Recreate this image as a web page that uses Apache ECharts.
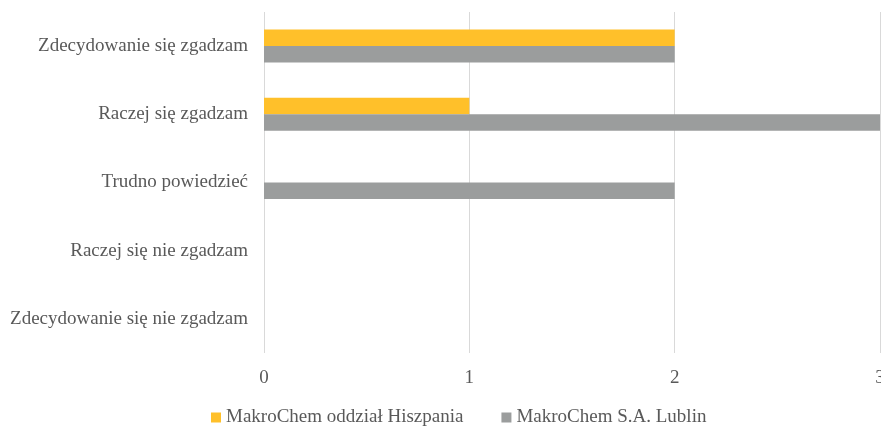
<!DOCTYPE html>
<html>
<head>
<meta charset="utf-8">
<script src="https://cdn.jsdelivr.net/npm/echarts@6/dist/echarts.min.js"></script>
<style>
  html, body { margin: 0; padding: 0; background: #fff; }
  #chart { width: 881px; height: 426px; }
</style>
</head>
<body>
<div id="chart"></div>
<script>
// Answer categories, listed top to bottom
const categories = [
  'Zdecydowanie się zgadzam',
  'Raczej się zgadzam',
  'Trudno powiedzieć',
  'Raczej się nie zgadzam',
  'Zdecydowanie się nie zgadzam'
];
const seriesNames = ['MakroChem oddział Hiszpania', 'MakroChem S.A. Lublin'];
const hiszpaniaValues = [2, 1, 0, 0, 0];
const lublinValues = [2, 3, 2, 0, 0];
const xTicks = [0, 1, 2, 3];

const font = '"Liberation Serif", "Times New Roman", serif';
const textColor = '#595959';
const fontSize = 19;

const chart = echarts.init(document.getElementById('chart'));
chart.setOption({
  animation: false,
  textStyle: { fontFamily: font },
  grid: { left: 264, right: 1, top: 12, bottom: 73, containLabel: false, outerBoundsMode: 'none' },
  legend: {
    top: 408,
    left: 211,
    itemWidth: 10,
    itemHeight: 10,
    itemGap: 38,
    icon: 'rect',
    padding: 0,
    textStyle: { fontFamily: font, fontSize: fontSize, color: textColor },
    data: seriesNames
  },
  xAxis: {
    type: 'value',
    min: xTicks[0],
    max: xTicks[xTicks.length - 1],
    interval: 1,
    axisLine: { show: false },
    axisTick: { show: false },
    axisLabel: { fontFamily: font, fontSize: fontSize, color: textColor, margin: 16 },
    splitLine: { show: true, lineStyle: { color: '#d9d9d9', width: 1 } }
  },
  yAxis: {
    type: 'category',
    data: categories,
    inverse: true,
    axisLine: { show: false },
    axisTick: { show: false },
    axisLabel: { fontFamily: font, fontSize: fontSize, color: textColor, margin: 16 }
  },
  series: [
    {
      name: seriesNames[0],
      type: 'bar',
      data: hiszpaniaValues,
      barWidth: 16.5,
      barGap: '0%',
      itemStyle: { color: '#FFC02A' }
    },
    {
      name: seriesNames[1],
      type: 'bar',
      data: lublinValues,
      barWidth: 16.5,
      barGap: '0%',
      itemStyle: { color: '#9B9D9D' }
    }
  ]
});
</script>
</body>
</html>
